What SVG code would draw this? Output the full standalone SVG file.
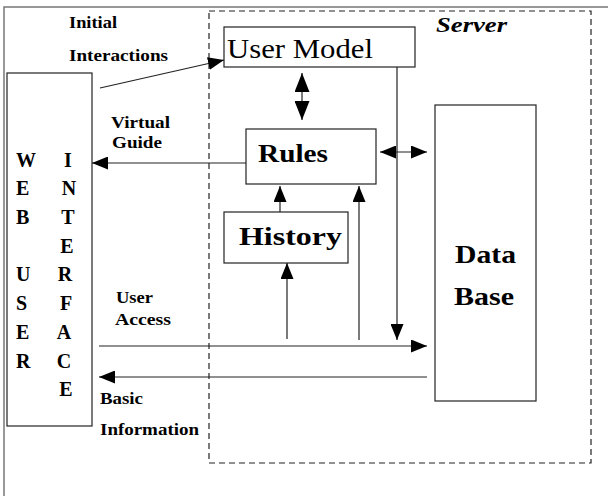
<svg xmlns="http://www.w3.org/2000/svg" width="608" height="496" viewBox="0 0 608 496">
  <style>
    .box { fill: #fff; stroke: #222; stroke-width: 1.2; }
    .frame { fill: none; stroke: #777; stroke-width: 1.5; }
    .server { fill: none; stroke: #222; stroke-width: 1.2; stroke-dasharray: 6 4; }
    .wire { fill: none; stroke: #222; stroke-width: 1.2; }
    text { font-family: "Liberation Serif", "Times New Roman", serif; fill: #000; }
    .lbl { font-size: 16px; font-weight: bold; }
    .big { font-size: 26px; font-weight: bold; }
    .col { font-size: 20px; font-weight: bold; }
  </style>
  <defs>
    <marker id="head" viewBox="0 0 16 13" refX="16" refY="6.5" markerWidth="16" markerHeight="13" markerUnits="userSpaceOnUse" orient="auto-start-reverse">
      <path d="M0,0 L16,6.5 L0,13 z" fill="#000"/>
    </marker>
    <marker id="headL" viewBox="0 0 19 15" refX="19" refY="7.5" markerWidth="19" markerHeight="15" markerUnits="userSpaceOnUse" orient="auto-start-reverse">
      <path d="M0,0 L19,7.5 L0,15 z" fill="#000"/>
    </marker>
  </defs>

  <!-- page frame -->
  <path class="frame" d="M4,496 V7 H608"/>

  <!-- server boundary -->
  <g id="server">
    <rect class="server" x="209" y="11" width="382" height="452"/>
    <text x="436" y="32" font-size="20" font-weight="bold" font-style="italic" textLength="71" lengthAdjust="spacingAndGlyphs">Server</text>
  </g>

  <!-- web user interface -->
  <g id="web-user-interface">
    <rect class="box" x="7" y="73" width="85" height="353"/>
    <g class="col">
      <text x="16" y="167">W</text>
      <text x="16" y="195">E</text>
      <text x="16" y="224">B</text>
      <text x="16" y="281">U</text>
      <text x="16" y="310">S</text>
      <text x="16" y="339">E</text>
      <text x="16" y="368">R</text>
    </g>
    <g class="col" text-anchor="middle">
      <text x="68" y="167">I</text>
      <text x="69" y="195">N</text>
      <text x="68" y="224">T</text>
      <text x="67" y="253">E</text>
      <text x="65" y="281">R</text>
      <text x="66" y="310">F</text>
      <text x="64" y="339">A</text>
      <text x="64" y="368">C</text>
      <text x="66" y="396">E</text>
    </g>
  </g>

  <g id="user-model">
    <rect class="box" x="224" y="27" width="191" height="40"/>
    <text x="227" y="58" font-size="27" textLength="146" lengthAdjust="spacingAndGlyphs">User Model</text>
  </g>

  <g id="rules">
    <rect class="box" x="246" y="129" width="130" height="55"/>
    <text class="big" x="258" y="162" textLength="70" lengthAdjust="spacingAndGlyphs">Rules</text>
  </g>

  <g id="history">
    <rect class="box" x="224" y="212" width="124" height="51"/>
    <text class="big" x="239" y="245" font-size="27" textLength="103" lengthAdjust="spacingAndGlyphs">History</text>
  </g>

  <g id="data-base">
    <rect class="box" x="435" y="105" width="101" height="296"/>
    <text class="big" x="455" y="263" textLength="61" lengthAdjust="spacingAndGlyphs">Data</text>
    <text class="big" x="454" y="305" textLength="60" lengthAdjust="spacingAndGlyphs">Base</text>
  </g>

  <!-- connector labels -->
  <g id="labels" class="lbl">
    <text x="69" y="28" textLength="48" lengthAdjust="spacingAndGlyphs">Initial</text>
    <text x="69" y="61" textLength="99" lengthAdjust="spacingAndGlyphs">Interactions</text>
    <text x="111" y="128" textLength="59" lengthAdjust="spacingAndGlyphs">Virtual</text>
    <text x="112" y="148" textLength="50" lengthAdjust="spacingAndGlyphs">Guide</text>
    <text x="116" y="303" textLength="37" lengthAdjust="spacingAndGlyphs">User</text>
    <text x="115" y="325" textLength="56" lengthAdjust="spacingAndGlyphs">Access</text>
    <text x="100" y="404" textLength="43" lengthAdjust="spacingAndGlyphs">Basic</text>
    <text x="100" y="435" textLength="99" lengthAdjust="spacingAndGlyphs">Information</text>
  </g>

  <g id="connectors">
    <!-- initial interactions -->
    <line class="wire" x1="100" y1="88" x2="224" y2="60" marker-end="url(#head)"/>
    <!-- user model <-> rules -->
    <line class="wire" x1="302" y1="73" x2="302" y2="120" marker-start="url(#headL)" marker-end="url(#headL)"/>
    <!-- virtual guide -->
    <line class="wire" x1="246" y1="163" x2="92" y2="163" marker-end="url(#head)"/>
    <!-- rules <-> data base -->
    <line class="wire" x1="380" y1="152" x2="427" y2="152" marker-start="url(#head)" marker-end="url(#head)"/>
    <!-- history -> rules -->
    <line class="wire" x1="280" y1="212" x2="280" y2="186" marker-end="url(#head)"/>
    <!-- access feed -> rules -->
    <line class="wire" x1="359" y1="340" x2="359" y2="186" marker-end="url(#head)"/>
    <!-- access feed -> history -->
    <line class="wire" x1="287" y1="339" x2="287" y2="263" marker-end="url(#head)"/>
    <!-- user model -> data base -->
    <line class="wire" x1="397" y1="67" x2="397" y2="340" marker-end="url(#head)"/>
    <!-- user access -->
    <line class="wire" x1="99" y1="346" x2="427" y2="346" marker-end="url(#head)"/>
    <!-- basic information -->
    <line class="wire" x1="427" y1="377" x2="99" y2="377" marker-end="url(#head)"/>
  </g>
</svg>
